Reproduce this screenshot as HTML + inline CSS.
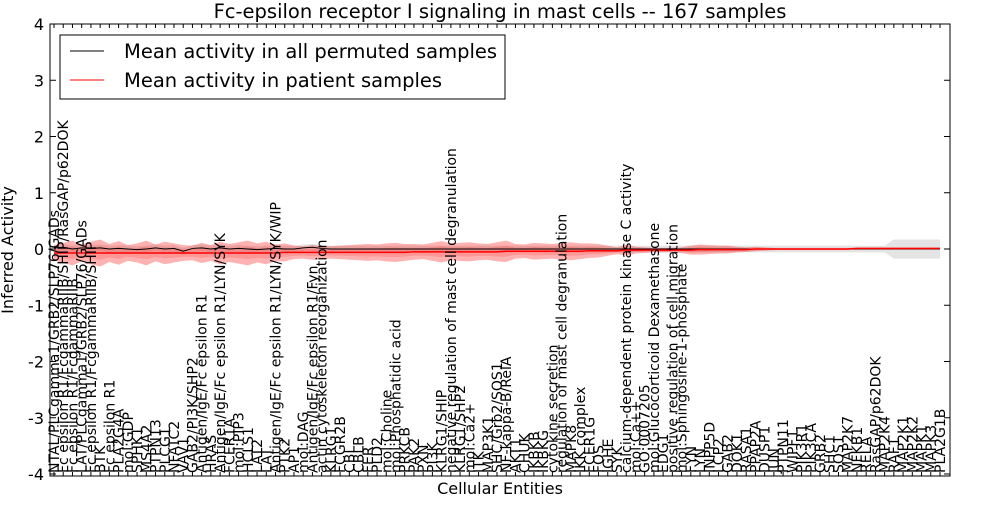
<!DOCTYPE html>
<html><head><meta charset="utf-8"><style>
body{margin:0;background:#fff;}
svg text{font-family:"DejaVu Sans","Liberation Sans",sans-serif;}
</style></head><body>
<svg id="chart" width="1000" height="500" xmlns="http://www.w3.org/2000/svg">
<rect width="1000" height="500" fill="#fff"/>
<text x="500" y="18" font-size="19.5" text-anchor="middle">Fc-epsilon receptor I signaling in mast cells -- 167 samples</text>
<g id="bands"></g>
<g id="lines"></g>
<g id="xlabels"></g>
<rect x="50" y="24" width="900" height="452" fill="none" stroke="#000" stroke-width="1"/>
<g id="yaxis"></g>
<text x="500" y="494" font-size="16" text-anchor="middle">Cellular Entities</text>
<text transform="translate(13,250) rotate(-90)" font-size="16" text-anchor="middle">Inferred Activity</text>
<g>
<rect x="60" y="35" width="445" height="64" fill="#fff" stroke="#000" stroke-width="1"/>
<g>
<line x1="70" y1="51" x2="104" y2="51" stroke="#000" stroke-width="1"/>
<text x="124" y="58" font-size="19.5">Mean activity in all permuted samples</text></g>
<g>
<line x1="70" y1="80" x2="104" y2="80" stroke="#f00" stroke-width="1"/>
<text x="124" y="87" font-size="19.5">Mean activity in patient samples</text></g>
</g>
</svg>
<script>
const categories=["NTAL/PLCgamma1/GRB2/SLP76/GADs","Fc epsilon R1/FcgammaRIIB/SHIP/RasGAP/p62DOK","Fc epsilon R1/FcgammaRIIB","LAT/PLCgamma1/GRB2/SLP76/GADs","Fc epsilon R1/FcgammaRIIB/SHIP","BTK","Fc epsilon R1","PLA2G4A","mol:GDP","SPHK1","MS4A2","PTPN13","PLCG1","NFATC2","VAV1","GAB2/PI3K/SHP2","Antigen/IgE/Fc epsilon R1","HRAS","Antigen/IgE/Fc epsilon R1/LYN/SYK","FCER1A","mol:PIP3","HCLS1","LAT2","LAT","Antigen/IgE/Fc epsilon R1/LYN/SYK/WIP","PTK2","AP1","mol:DAG","Antigen/IgE/Fc epsilon R1/Fyn","actin cytoskeleton reorganization","KLRG1","FCGR2B","CBL","CBLB","FER","PLD2","mol:Choline","mol:Phosphatidic acid","PRKCB","PAK2","PXN","PI3K","KLRG1/SHIP","negative regulation of mast cell degranulation","KLRG1/SHP2","mol:Ca2+","ITK","MAP3K1","SHC/Grb2/SOS1","NF-kappa-B/RelA","AKT1","CHUK","IKBKB","IKBKG","cytokine secretion","regulation of mast cell degranulation","MAPK8","IKK complex","FCER1G","FOS","IGHE","SYK","calcium-dependent protein kinase C activity","mol:Ca++","GO:0007205","mol:Glucocorticoid Dexamethasone","EDG1","positive regulation of cell migration","mol:Sphingosine-1-phosphate","FYN","LYN","INPP5D","LCP2","GAB2","DOK1","RASA1","PPAP2A","DUSP1","JUN","PTPN11","WIPF1","PIK3R1","PIK3CA","GRB2","SHC1","SOS1","MAP2K7","NFKB1","RELA","RasGAP/p62DOK","MAP2K4","RAF1","MAP2K1","MAP2K2","MAPK1","MAPK3","PLA2G1B"];
const patientMean=[-0.07,-0.07,-0.07,-0.07,-0.07,-0.07,-0.07,-0.07,-0.07,-0.07,-0.07,-0.07,-0.07,-0.07,-0.07,-0.07,-0.07,-0.07,-0.07,-0.07,-0.07,-0.07,-0.07,-0.07,-0.07,-0.06,-0.06,-0.06,-0.06,-0.06,-0.06,-0.06,-0.06,-0.06,-0.06,-0.06,-0.06,-0.06,-0.06,-0.05,-0.05,-0.05,-0.05,-0.05,-0.05,-0.05,-0.05,-0.05,-0.05,-0.04,-0.04,-0.04,-0.04,-0.04,-0.04,-0.04,-0.04,-0.04,-0.03,-0.03,-0.03,-0.03,-0.02,-0.02,-0.02,-0.02,-0.02,-0.02,-0.02,-0.02,-0.01,-0.01,-0.01,-0.01,-0.01,-0.01,0,0,0,0,0,0,0,0,0,0,0,0.01,0.01,0.01,0.01,0.01,0.01,0.01,0.01,0.01,0.01];
const patientStd=[0.13,0.18,0.22,0.15,0.2,0.24,0.16,0.21,0.14,0.17,0.22,0.15,0.2,0.17,0.14,0.13,0.18,0.14,0.2,0.16,0.19,0.22,0.17,0.2,0.15,0.16,0.12,0.11,0.13,0.12,0.11,0.12,0.13,0.14,0.15,0.14,0.16,0.17,0.15,0.14,0.13,0.16,0.19,0.15,0.16,0.17,0.15,0.14,0.17,0.19,0.13,0.12,0.15,0.14,0.13,0.15,0.16,0.14,0.13,0.12,0.09,0.06,0.1,0.06,0.05,0.04,0.04,0.04,0.05,0.08,0.09,0.08,0.07,0.07,0.05,0.04,0.04,0.03,0.02,0.02,0.02,0.02,0.02,0.02,0.02,0.02,0.02,0.02,0.02,0.02,0.02,0.02,0.02,0.02,0.02,0.02,0.02];
const permMean=[0.02,0.03,0.0,0.02,0.01,0.02,0.0,0.01,0.0,-0.01,0.0,0.02,0.0,0.01,-0.04,0.01,0.02,0.0,0.02,0.0,0.01,0.0,-0.01,0.0,0.01,0.0,0.0,0.02,0.03,0.01,0.0,0.0,0.0,0.0,0.0,0.0,0.0,0.0,0.0,0.0,0.0,0.0,0.0,0.0,0.0,0.0,0.0,0.0,0.0,0.0,0.0,0.0,0.0,0.0,0.0,0.0,0.0,0.0,0.0,0.0,0.0,0.0,0.0,0.0,0.0,0.0,0.0,0.0,0.0,0.0,0.0,0.0,0.0,0.0,0.0,0.0,0.0,0.0,0.0,0.0,0.0,0.0,0.0,0.0,0.0,0.0,0.0,0.0,0.0,0.0,0.0,0.0,0.0,0.0,0.0,0.0,0.0];
const permStd=[0.06,0.06,0.06,0.06,0.06,0.06,0.06,0.06,0.06,0.06,0.06,0.06,0.06,0.06,0.06,0.06,0.06,0.06,0.06,0.06,0.06,0.06,0.06,0.06,0.06,0.06,0.06,0.06,0.06,0.06,0.06,0.06,0.06,0.06,0.06,0.06,0.06,0.06,0.06,0.06,0.06,0.06,0.06,0.06,0.06,0.06,0.06,0.06,0.06,0.06,0.06,0.06,0.06,0.06,0.06,0.06,0.06,0.06,0.06,0.06,0.06,0.06,0.06,0.06,0.06,0.06,0.06,0.06,0.06,0.06,0.06,0.06,0.06,0.06,0.06,0.06,0.06,0.06,0.06,0.06,0.06,0.06,0.06,0.06,0.06,0.06,0.06,0.06,0.06,0.06,0.06,0.17,0.17,0.17,0.17,0.17,0.17];
const yTicks=[4,3,2,1,0,-1,-2,-3,-4];
const NS="http://www.w3.org/2000/svg";
const n=categories.length;
function xs(i){return 54+i*(940-54)/(n-1);}
function ys(v){return 249-v*56.25;}
function mk(tag,attrs,parent){const e=document.createElementNS(NS,tag);for(const k in attrs)e.setAttribute(k,attrs[k]);parent.appendChild(e);return e;}
function band(mean,std,k){let up=[],lo=[];for(let i=0;i<n;i++){up.push(xs(i)+","+ys(mean[i]+std[i]*k));lo.unshift(xs(i)+","+ys(mean[i]-std[i]*k));}return up.concat(lo).join(" ");}
const bands=document.getElementById('bands');
const gb=mk('polygon',{points:band(permMean,permStd,1),fill:"#bbb","fill-opacity":"0.4",stroke:"none"},bands);


const rb1=mk('polygon',{points:band(patientMean,patientStd,1),fill:"#f00","fill-opacity":"0.3",stroke:"none"},bands);


const rb2=mk('polygon',{points:band(patientMean,patientStd,0.5),fill:"#f00","fill-opacity":"0.15",stroke:"none"},bands);


const lines=document.getElementById('lines');
const pl=mk('polyline',{points:permMean.map((v,i)=>xs(i)+","+ys(v)).join(" "),fill:"none",stroke:"#000","stroke-width":1},lines);


const rl=mk('polyline',{points:patientMean.map((v,i)=>xs(i)+","+ys(v)).join(" "),fill:"none",stroke:"#f00","stroke-width":1.5},lines);


const xl=document.getElementById('xlabels');
categories.forEach((c,i)=>{
 const x=xs(i);
 mk('line',{x1:x,y1:476,x2:x,y2:472,stroke:"#000","stroke-width":1},xl);
 mk('line',{x1:x,y1:24,x2:x,y2:28,stroke:"#000","stroke-width":1},xl);
 const t=mk('text',{transform:`translate(${x+5},473) rotate(-90)`,"font-size":"14"},xl);
 t.textContent=c;
 
 
});
const ya=document.getElementById('yaxis');
yTicks.forEach(v=>{
 const y=ys(v);
 mk('line',{x1:50,y1:y,x2:56,y2:y,stroke:"#000"},ya);
 mk('line',{x1:944,y1:y,x2:950,y2:y,stroke:"#000"},ya);
 const t=mk('text',{x:44,y:y+6,"font-size":"16","text-anchor":"end"},ya);
 t.textContent=String(v);
 
 
});
</script>
</body></html>
